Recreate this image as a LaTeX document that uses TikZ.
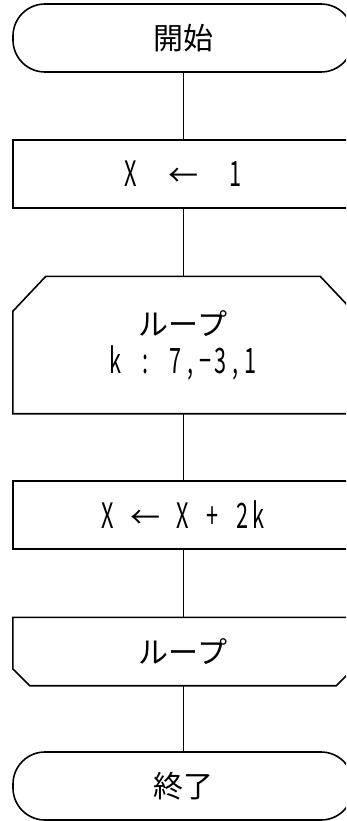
\documentclass[tikz,border=0pt]{standalone}
\usepackage{fontspec}
\usepackage{graphicx}
\setmainfont{Noto Sans CJK JP}
\newcommand{\hc}[1]{\makebox[15pt][c]{\fontsize{35pt}{36pt}\selectfont\scalebox{0.62}[1]{#1}}}
\newcommand{\fc}[1]{\makebox[30pt][c]{#1}}
\begin{document}
\begin{tikzpicture}[x=1pt,y=-1pt,
  base/.style={minimum width=340pt, minimum height=68pt, inner sep=0pt,
    font=\fontsize{30pt}{36pt}\selectfont, align=center},
  border/.style={line width=1.6pt, line join=miter},
  term/.style={base, draw, border, rectangle, rounded corners=32pt},
  proc/.style={base, draw, border, rectangle},
  loopnode/.style={base},
  conn/.style={line width=1pt}]
\useasboundingbox (0,0) rectangle (346,821);
\clip (0,0) rectangle (346,821);
\node[term] (start) at (183,38) {開始};
\node[proc] (b1) at (183,174) {\hc{X}\fc{\ }\fc{←}\fc{\ }\hc{1}};
\node[loopnode, minimum height=137pt] (ls) at (183,345) {ループ\\[2pt]\hc{k}\hc{\ }\hc{:}\hc{\ }\hc{7}\hc{,}\hc{−}\hc{3}\hc{,}\hc{1}};
\draw[border] ([yshift=-35pt]ls.north west) -- ([xshift=33pt]ls.north west) -- ([xshift=-33pt]ls.north east) -- ([yshift=-35pt]ls.north east) -- (ls.south east) -- (ls.south west) -- cycle;
\node[proc] (b2) at (183,515) {\hc{X}\hc{\ }\fc{←}\hc{\ }\hc{X}\hc{\ }\hc{+}\hc{\ }\hc{2}\hc{k}};
\node[loopnode] (le) at (183,651.5) {ループ};
\draw[border] (le.north west) -- (le.north east) -- ([yshift=17pt]le.south east) -- ([xshift=-17pt]le.south east) -- ([xshift=17pt]le.south west) -- ([yshift=17pt]le.south west) -- cycle;
\node[term] (end) at (183,786) {終了};
\draw[conn] (start.south) -- (b1.north);
\draw[conn] (b1.south) -- (ls.north);
\draw[conn] (ls.south) -- (b2.north);
\draw[conn] (b2.south) -- (le.north);
\draw[conn] (le.south) -- (end.north);
\end{tikzpicture}
\end{document}
